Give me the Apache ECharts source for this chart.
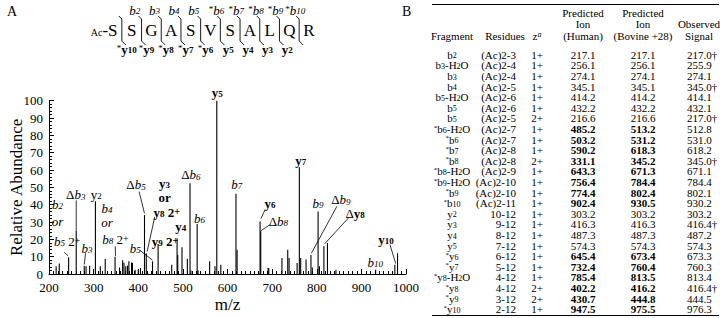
<!DOCTYPE html>
<html>
<head>
<meta charset="utf-8">
<script src="https://cdn.jsdelivr.net/npm/echarts@6/dist/echarts.min.js"></script>
<style>
  html, body { margin: 0; padding: 0; background: #fff; }
  #chart { width: 720px; height: 318px; }
</style>
</head>
<body>
<div id="chart"></div>
<script>
// ---- spectrum peaks (m/z, relative abundance) ----
const peakMz = [216, 223, 244, 261, 279, 283, 291, 304, 315, 326, 348, 358, 365, 368, 372, 376, 379, 385, 387,
  393, 400, 405, 414, 418, 432, 444.5, 475, 487, 488.5, 498, 510, 516, 518, 532, 534, 560, 572, 576, 585,
  619, 621.5, 673, 674.5, 691, 692.5, 722, 735, 738, 756, 761, 764, 776, 787, 790, 803, 806, 816, 824, 843,
  932, 975, 981];
const peakAbund = [4.4, 6, 9.7, 25, 4.8, 4.4, 4.8, 42, 4.4, 8.7, 10, 3.8, 7.9, 6.5, 4.4, 4.8, 7.3, 6.7, 6.3,
  2.5, 2.5, 3.5, 34, 12, 7.3, 17.3, 5.4, 20.7, 11, 15.4, 8.8, 52.4, 2, 28.8, 2, 7.3, 4.4, 100, 5.4,
  46.3, 14, 30.3, 24.6, 3.5, 3.5, 9.2, 14, 9.2, 6.3, 61.6, 9.2, 8.3, 11, 3.8, 36, 4.4, 16, 17.9, 2.5,
  2.5, 5.4, 12];

// ---- peak annotations ----
const annText = [
  '{i|b}{is|2}', '{i|or}', '{i|b}{is|5}{n| 2}{sup|+}', 'Δ{i|b}{is|3}', '{i|b}{is|3}', '{n|y}{ns|2}',
  '{i|b}{is|4}', '{i|or}', '{i|b}{is|8}{n| 2}{sup|+}', '{i|b}{is|5}', 'Δ{i|b}{is|5}',
  '{b|y}{bs|3}', '{b|or}', '{b|y}{bs|8}{b| 2}{bsup|+}', '{b|y}{bs|9}{b| 2}{bsup|+}', '{b|y}{bs|4}',
  'Δ{i|b}{is|6}', '{i|b}{is|6}', '{b|y}{bs|5}', '{i|b}{is|7}', '{b|y}{bs|6}', 'Δ{i|b}{is|8}',
  '{b|y}{bs|7}', '{i|b}{is|9}', 'Δ{i|b}{is|9}', 'Δ{b|y}{bs|8}', '{b|y}{bs|10}', '{i|b}{is|10}'
];
// label centres, in axis units (layout)
const annAt = [
  [219, 40], [219, 30.5], [241, 18.8], [260, 45.7], [285, 15], [306, 45.7],
  [330, 38], [330, 29.5], [349, 19.8], [393, 15], [395, 51.4],
  [459, 52.5], [459, 44.3], [464, 35.5], [460, 19], [495, 27.5],
  [518, 57.2], [537, 32.3], [577, 104.8], [621, 51.4], [695, 40.9], [714, 30.3],
  [764, 65.3], [803, 40.5], [854, 42.8], [886, 35.1], [955, 19.8], [931, 6.7]
];
// leader lines [fromMz, fromAb, toMz, toAb] (layout)
const annLead = [
  null, null, [234, 12.5, 243, 10.5], [261, 42.5, 261, 25], [282, 12, 279, 5.5], null,
  null, null, [348.5, 16, 349, 10.5], [404, 13.6, 432, 8], [402, 47.5, 414, 35],
  null, null, [437, 33, 420, 13], null, null,
  null, null, null, null, [684, 37, 675, 32], [695, 28.4, 675, 25],
  null, null, [845, 39, 788, 12], [872, 32.6, 818, 17.5], [964, 17, 977, 6], null
];

// ---- peptide ----
const residues = ['S', 'S', 'G', 'A', 'S', 'V', 'S', 'A', 'L', 'Q', 'R'];
const bIons = [null, 'b2', 'b3', 'b4', 'b5', '*b6', '*b7', '*b8', '*b9', '*b10'];
const yIons = ['*y10', '*y9', '*y8', '*y7', '*y6', 'y5', 'y4', 'y3', 'y2', null];

// ---- table B ----
const fragments = ['b2', 'b3-H2O', 'b3', 'b4', 'b5-H2O', 'b5', 'b5', '*b6-H2O', '*b6', '*b7', '*b8',
  '*b8-H2O', '*b9-H2O', '*b9', '*b10', 'y2', 'y3', 'y4', 'y5', '*y6', '*y7', '*y8-H2O', '*y8', '*y9', '*y10'];
const residueRanges = ['(Ac)2-3', '(Ac)2-4', '(Ac)2-4', '(Ac)2-5', '(Ac)2-6', '(Ac)2-6', '(Ac)2-5', '(Ac)2-7',
  '(Ac)2-7', '(Ac)2-8', '(Ac)2-8', '(Ac)2-9', '(Ac)2-10', '(Ac)2-10', '(Ac)2-11', '10-12', '9-12', '8-12',
  '7-12', '6-12', '5-12', '4-12', '4-12', '3-12', '2-12'];
const charges = ['1+', '1+', '1+', '1+', '1+', '1+', '2+', '1+', '1+', '1+', '2+', '1+', '1+', '1+', '1+',
  '1+', '1+', '1+', '1+', '1+', '1+', '1+', '2+', '2+', '1+'];
const humanIon = [217.1, 256.1, 274.1, 345.1, 414.2, 432.2, 216.6, 485.2, 503.2, 590.2, 331.1, 643.3, 756.4,
  774.4, 902.4, 303.2, 416.3, 487.3, 574.3, 645.4, 732.4, 785.4, 402.2, 430.7, 947.5];
const bovineIon = [217.1, 256.1, 274.1, 345.1, 414.2, 432.2, 216.6, 513.2, 531.2, 618.3, 345.2, 671.3, 784.4,
  802.4, 930.5, 303.2, 416.3, 487.3, 574.3, 673.4, 760.4, 813.5, 416.2, 444.8, 975.5];
const observed = [217.0, 255.9, 274.1, 345.0, 414.1, 432.1, 217.0, 512.8, 531.0, 618.2, 345.0, 671.1, 784.4,
  802.1, 930.2, 303.2, 416.4, 487.2, 574.3, 673.3, 760.3, 813.4, 416.4, 444.5, 976.3];
const dagger = [1, 0, 0, 1, 0, 0, 1, 0, 0, 0, 1, 0, 0, 0, 0, 0, 1, 0, 0, 0, 0, 0, 1, 0, 0];

const SERIF = '"Liberation Serif", "DejaVu Serif", serif';

const annRich = {
  n: { fontFamily: SERIF, fontSize: 13, lineHeight: 12 },
  ns: { fontFamily: SERIF, fontSize: 9, lineHeight: 5, verticalAlign: 'bottom' },
  i: { fontFamily: SERIF, fontSize: 13, fontStyle: 'italic', lineHeight: 12 },
  is: { fontFamily: SERIF, fontSize: 9, fontStyle: 'italic', lineHeight: 5, verticalAlign: 'bottom' },
  b: { fontFamily: SERIF, fontSize: 13, fontWeight: 'bold', lineHeight: 12 },
  bs: { fontFamily: SERIF, fontSize: 9, fontWeight: 'bold', lineHeight: 5, verticalAlign: 'bottom' },
  sup: { fontFamily: SERIF, fontSize: 10, lineHeight: 8, verticalAlign: 'top' },
  bsup: { fontFamily: SERIF, fontSize: 10, fontWeight: 'bold', lineHeight: 8, verticalAlign: 'top' }
};

// turn "*b6-H2O" into rich markup: star raised, digits as subscripts
function ionRich(name, base) {
  let out = '';
  const m = name.match(/\*|\d+|[^*\d]+/g);
  m.forEach(tok => {
    if (tok === '*') out += '{st|*}';
    else if (/^\d+$/.test(tok)) out += '{' + base + 's|' + tok + '}';
    else out += '{' + base + '|' + tok + '}';
  });
  return out;
}

const TS = 11;
const TR = {
  t: { fontFamily: SERIF, fontSize: TS, lineHeight: 10 },
  ts: { fontFamily: SERIF, fontSize: TS - 3, lineHeight: 4, verticalAlign: 'bottom' },
  tb: { fontFamily: SERIF, fontSize: TS, fontWeight: 'bold', lineHeight: 10 },
  st: { fontFamily: SERIF, fontSize: TS - 4, lineHeight: 6, verticalAlign: 'top' },
  sup: { fontFamily: SERIF, fontSize: TS - 3, fontStyle: 'italic', lineHeight: 6, verticalAlign: 'top' }
};

const seqRich = {
  ac: { fontFamily: SERIF, fontSize: 10, lineHeight: 13, verticalAlign: 'bottom' },
  aa: { fontFamily: SERIF, fontSize: 17, lineHeight: 14 },
  i: { fontFamily: SERIF, fontSize: 13, fontStyle: 'italic', lineHeight: 11 },
  is: { fontFamily: SERIF, fontSize: 9, fontStyle: 'italic', lineHeight: 5, verticalAlign: 'bottom' },
  b: { fontFamily: SERIF, fontSize: 13, fontWeight: 'bold', lineHeight: 11 },
  bs: { fontFamily: SERIF, fontSize: 9, fontWeight: 'bold', lineHeight: 5, verticalAlign: 'bottom' },
  st: { fontFamily: SERIF, fontSize: 9, lineHeight: 7, verticalAlign: 'top' }
};

const chart = echarts.init(document.getElementById('chart'), null, { renderer: 'svg' });

// table column anchors (pixel-like units of the hidden table axis)
const COL = { frag: 452, res: 516, z: 537, human: 583, bovine: 643, obs: 687 };
const tableTop = 49.5;
const rowH = 10.6;

chart.setOption({
  animation: false,
  grid: [
    { left: 44.5, top: 100.7, width: 361.5, height: 173.6 },
    { left: 0, top: tableTop, width: 720, height: rowH * fragments.length },
    { left: 112, top: 0, width: 197, height: 60 }
  ],
  xAxis: [
    {
      type: 'value', gridIndex: 0, min: 200, max: 1000, interval: 100,
      axisLine: { lineStyle: { color: '#000', width: 1 } },
      axisTick: { inside: true, length: 5, lineStyle: { color: '#000' } },
      minorTick: { show: true, splitNumber: 10, length: 3, lineStyle: { color: '#000' } },
      splitLine: { show: false },
      axisLabel: { color: '#000', fontFamily: SERIF, fontSize: 13, margin: 7, formatter: v => String(v) },
      name: 'm/z', nameLocation: 'middle', nameGap: 22, nameMoveOverlap: false,
      nameTextStyle: { color: '#000', fontFamily: SERIF, fontSize: 17 }
    },
    { type: 'value', gridIndex: 1, min: 0, max: 720, show: false },
    { type: 'value', gridIndex: 2, min: 0, max: 10, show: false }
  ],
  yAxis: [
    {
      type: 'value', gridIndex: 0, min: 0, max: 100, interval: 10,
      axisLine: { show: true, lineStyle: { color: '#000', width: 1 } },
      axisTick: { show: true, inside: true, length: 5, lineStyle: { color: '#000' } },
      minorTick: { show: true, splitNumber: 5, length: 3, lineStyle: { color: '#000' } },
      splitLine: { show: false },
      axisLabel: { color: '#000', fontFamily: SERIF, fontSize: 13, margin: 6 },
      name: 'Relative Abundance', nameLocation: 'middle', nameGap: 24, nameRotate: 90, nameMoveOverlap: false,
      nameTextStyle: { color: '#000', fontFamily: SERIF, fontSize: 17 }
    },
    { type: 'value', gridIndex: 1, min: -0.5, max: fragments.length - 0.5, inverse: true, show: false },
    { type: 'value', gridIndex: 2, min: 0, max: 60, inverse: true, show: false }
  ],
  graphic: [
    { type: 'text', left: 7, top: 4, style: { text: 'A', font: '14px ' + SERIF, fill: '#000' } },
    { type: 'text', left: 402, top: 4, style: { text: 'B', font: '14px ' + SERIF, fill: '#000' } },
    { type: 'line', shape: { x1: 432, y1: 4.5, x2: 719, y2: 4.5 }, style: { stroke: '#000', lineWidth: 1 } },
    { type: 'line', shape: { x1: 432, y1: 315.5, x2: 719, y2: 315.5 }, style: { stroke: '#000', lineWidth: 1 } }
  ],
  series: [
    {
      type: 'bar', xAxisIndex: 0, yAxisIndex: 0, barWidth: 1.1,
      itemStyle: { color: '#000' },
      data: peakMz.map((m, k) => [m, peakAbund[k]])
    },
    {
      // peak labels and leader lines
      type: 'custom', xAxisIndex: 0, yAxisIndex: 0, clip: false, silent: true,
      data: annText.map((t, k) => k),
      renderItem(params, api) {
        const k = params.dataIndex;
        const p = api.coord(annAt[k]);
        const kids = [{
          type: 'text', x: p[0], y: p[1],
          style: { text: annText[k], rich: annRich, fontFamily: SERIF, fontSize: 13, fill: '#000',
            align: 'center', verticalAlign: 'middle' }
        }];
        const l = annLead[k];
        if (l) {
          const a = api.coord([l[0], l[1]]), b = api.coord([l[2], l[3]]);
          kids.push({ type: 'line', shape: { x1: a[0], y1: a[1], x2: b[0], y2: b[1] },
            style: { stroke: '#000', lineWidth: 0.8 } });
        }
        return { type: 'group', children: kids };
      }
    },
    {
      // table header + rows
      type: 'custom', xAxisIndex: 1, yAxisIndex: 1, clip: false, silent: true,
      data: fragments.map((f, k) => k),
      renderItem(params, api) {
        const k = params.dataIndex;
        const y = api.coord([0, k])[1];
        const X = c => api.coord([c, k])[0];
        const bold = fragments[k][0] === '*';
        const num = v => '{' + (bold ? 'tb' : 't') + '|' + v.toFixed(1) + '}';
        const cell = (x, text, align) => ({
          type: 'text', x: x, y: y,
          style: { text: text, rich: TR, fontFamily: SERIF, fontSize: TS, fill: '#000', align: align, verticalAlign: 'middle' }
        });
        const kids = [
          cell(X(COL.frag), ionRich(fragments[k], 't'), 'center'),
          cell(X(COL.res), '{t|' + residueRanges[k] + '}', 'right'),
          cell(X(COL.z), '{t|' + charges[k] + '}', 'center'),
          cell(X(COL.human), num(humanIon[k]), 'center'),
          cell(X(COL.bovine), num(bovineIon[k]), 'center'),
          cell(X(COL.obs), '{t|' + observed[k].toFixed(1) + (dagger[k] ? '†' : '') + '}', 'left')
        ];
        if (k === 0) {
          const head = (x, yy, text) => ({
            type: 'text', x: X(x), y: yy,
            style: { text: text, rich: TR, fontFamily: SERIF, fontSize: TS, fill: '#000', align: 'center', verticalAlign: 'middle' }
          });
          kids.push(
            head(COL.human, 12.5, '{t|Predicted}'), head(COL.human, 24, '{t|Ion}'), head(COL.human, 35.5, '{t|(Human)}'),
            head(COL.bovine, 12.5, '{t|Predicted}'), head(COL.bovine, 24, '{t|Ion}'), head(COL.bovine, 35.5, '{t|(Bovine +28)}'),
            head(699, 24, '{t|Observed}'), head(699, 35.5, '{t|Signal}'),
            head(452, 35.5, '{t|Fragment}'), head(505, 35.5, '{t|Residues}'), head(COL.z, 35.5, '{t|z}{sup|a}')
          );
        }
        return { type: 'group', children: kids };
      }
    },
    {
      // peptide sequence with fragmentation brackets
      type: 'custom', xAxisIndex: 2, yAxisIndex: 2, clip: false, silent: true,
      data: residues.map((r, k) => k),
      renderItem(params, api) {
        const k = params.dataIndex;
        const p = api.coord([k, 30]);
        const kids = [];
        if (k === 0) {
          kids.push({ type: 'text', x: p[0] + 5.5, y: p[1],
            style: { text: '{ac|Ac}{aa|-' + residues[k] + '}', rich: seqRich, fill: '#000', align: 'right', verticalAlign: 'middle' } });
        } else {
          kids.push({ type: 'text', x: p[0], y: p[1],
            style: { text: '{aa|' + residues[k] + '}', rich: seqRich, fill: '#000', align: 'center', verticalAlign: 'middle' } });
        }
        if (k < residues.length - 1) {
          const top = api.coord([k + 0.5, 18]), bot = api.coord([k + 0.5, 44]);
          const bx = top[0];
          kids.push({ type: 'polyline',
            shape: { points: [[bx - 3, top[1] - 2], [bx, top[1] + 1], [bx, bot[1] - 3], [bx + 4, bot[1] + 1]] },
            style: { stroke: '#000', lineWidth: 0.9, fill: 'none' } });
          if (bIons[k]) {
            const star = bIons[k][0] === '*';
            const q = api.coord([k, 10]);
            kids.push({ type: 'text', x: q[0] + (star ? 6 : 3), y: q[1],
              style: { text: ionRich(bIons[k], 'i'), rich: seqRich, fill: '#000', align: 'center', verticalAlign: 'middle' } });
          }
          if (yIons[k]) {
            const star = yIons[k][0] === '*';
            const q = api.coord([k + 1, 49]);
            kids.push({ type: 'text', x: q[0] - (star ? 5 : 2), y: q[1],
              style: { text: ionRich(yIons[k], 'b'), rich: seqRich, fill: '#000', align: 'center', verticalAlign: 'middle' } });
          }
        }
        return { type: 'group', children: kids };
      }
    }
  ]
});
</script>
</body>
</html>
